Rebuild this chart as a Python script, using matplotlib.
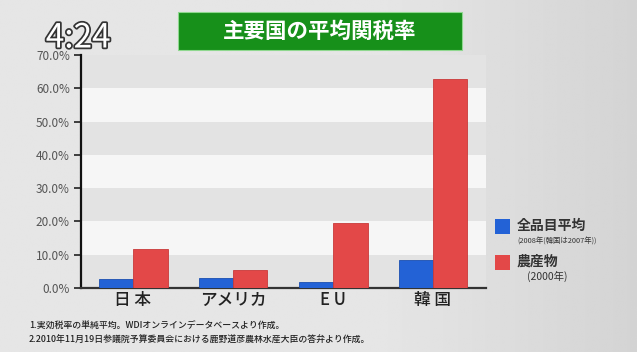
import matplotlib
matplotlib.use("Agg")
import matplotlib.pyplot as plt
import matplotlib.patheffects as pe
from matplotlib.patches import Rectangle
import numpy as np

plt.rcParams['font.family'] = ['Noto Sans CJK JP', 'DejaVu Sans']

categories = ["日 本", "アメリカ", "E U", "韓 国"]
all_goods = [2.6, 3.0, 1.8, 8.4]        # 全品目平均 (%)
agri = [11.7, 5.5, 19.6, 62.8]          # 農産物 (%)
yticks = [0, 10, 20, 30, 40, 50, 60, 70]
ytick_labels = ["0.0%", "10.0%", "20.0%", "30.0%", "40.0%", "50.0%", "60.0%", "70.0%"]
title = "主要国の平均関税率"
legend_labels = ["全品目平均", "農産物"]
legend_sub = ["(2008年(韓国は2007年))", "(2000年)"]
footnotes = ["1.実効税率の単純平均。WDIオンラインデータベースより作成。",
             "2.2010年11月19日参議院予算委員会における鹿野道彦農林水産大臣の答弁より作成。"]

W, H = 637, 352
fig = plt.figure(figsize=(W / 100, H / 100), dpi=100)
fig.patch.set_facecolor("#dcdcdc")

# background gradient
bg = fig.add_axes([0, 0, 1, 1], zorder=-10)
grad = np.linspace(0, 1, 300)
vals = 0.90 - 0.07 * np.clip((grad - 0.6) / 0.4, 0, 1)
img = np.tile(vals, (10, 1))
bg.imshow(img, cmap="gray", vmin=0, vmax=1, aspect="auto", extent=[0, 1, 0, 1])
bg.set_axis_off()

def fx(px):
    return px / W

def fy(py):
    return 1 - py / H

left, right, top, bottom = 81, 486, 55, 288
ax = fig.add_axes([fx(left), fy(bottom), fx(right - left), fy(top) - fy(bottom)])
ax.set_facecolor("#f6f6f6")

for i in range(7):
    ax.axhspan(i * 10, (i + 1) * 10, color="#e3e3e3" if i % 2 == 0 else "#f6f6f6", zorder=0, lw=0)

x = np.arange(len(categories))
w = 0.345
ax.bar(x - w / 2, all_goods, w, color="#2362d6", edgecolor="#1a4fb0", lw=0.6, zorder=3)
ax.bar(x + w / 2, agri, w, color="#e34848", edgecolor="#c93a3a", lw=0.6, zorder=3)

ax.set_xlim(-0.52, 3.53)
ax.set_ylim(0, 70)
ax.set_yticks(yticks)
ax.set_yticklabels(ytick_labels, fontsize=8.5, color="#555555")
ax.set_xticks(x)
ax.set_xticklabels(categories, fontsize=12, color="#222222", fontweight="medium")
ax.tick_params(axis="x", length=0, pad=2)
ax.tick_params(axis="y", length=5, width=1.2, color="#222222", pad=3)
for s in ["top", "right"]:
    ax.spines[s].set_visible(False)
ax.spines["left"].set_linewidth(1.6)
ax.spines["left"].set_color("#111111")
ax.spines["bottom"].set_linewidth(1.6)
ax.spines["bottom"].set_color("#333333")

# title box
fig.patches.append(Rectangle((fx(178), fy(50)), fx(462 - 178), fy(12) - fy(50),
                             transform=fig.transFigure, facecolor="#17901a",
                             edgecolor="#8fd88f", lw=0.8, zorder=5))
fig.text(fx(320), fy(31), title, fontsize=15.5, fontweight="bold", color="white",
         ha="center", va="center", zorder=6)

# time stamp
fig.text(fx(78), fy(38), "4:24", fontsize=24, color="white", ha="center", va="center",
         zorder=7, path_effects=[pe.withStroke(linewidth=2.5, foreground="#333333")])

# legend
colors = ["#2362d6", "#e34848"]
sq_y = [219, 255]
for i in range(2):
    fig.patches.append(Rectangle((fx(495), fy(sq_y[i] + 15)), fx(15), fy(sq_y[i]) - fy(sq_y[i] + 15),
                                 transform=fig.transFigure, facecolor=colors[i], lw=0, zorder=5))
fig.text(fx(517), fy(226), legend_labels[0], fontsize=10, fontweight="bold", color="#333333",
         ha="left", va="center")
fig.text(fx(517), fy(242), legend_sub[0], fontsize=5.3, color="#333333", ha="left", va="center")
fig.text(fx(517), fy(262), legend_labels[1], fontsize=10, fontweight="bold", color="#333333",
         ha="left", va="center")
fig.text(fx(527), fy(276), legend_sub[1], fontsize=7.5, color="#333333", ha="left", va="center")

# footnotes
fig.text(fx(29), fy(326), footnotes[0], fontsize=6.4, color="#222222", ha="left", va="center",
         fontweight="medium")
fig.text(fx(29), fy(340), footnotes[1], fontsize=6.4, color="#222222", ha="left", va="center",
         fontweight="medium")

fig.savefig("out.png", dpi=100, facecolor=fig.get_facecolor())
